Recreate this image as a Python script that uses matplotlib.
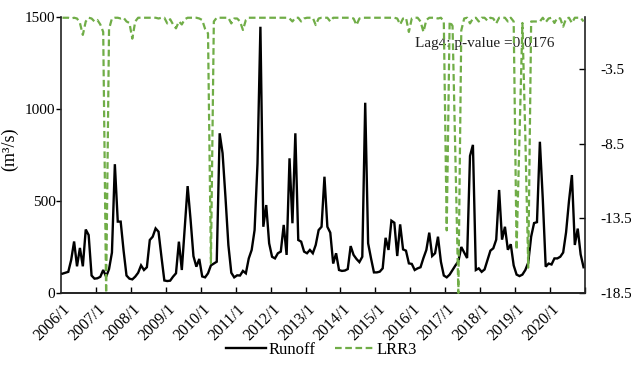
import matplotlib
matplotlib.use('Agg')
import matplotlib.pyplot as plt
from matplotlib.lines import Line2D

plt.rcParams['font.family'] = ['Liberation Serif', 'DejaVu Serif']

years = list(range(2006, 2021))
tick_labels = [f"{y}/1" for y in years]

# Monthly runoff (m3/s), 2006/1 .. 2020/12
runoff_2006 = [105, 110, 115, 180, 280, 145, 245, 145, 345, 315, 95, 78]
runoff_2007 = [80, 88, 125, 89, 130, 220, 700, 388, 388, 230, 95, 78]
runoff_2008 = [74, 89, 110, 150, 125, 140, 288, 306, 351, 333, 197, 68]
runoff_2009 = [65, 67, 89, 107, 279, 125, 350, 581, 400, 200, 143, 185]
runoff_2010 = [90, 85, 107, 150, 160, 170, 868, 760, 520, 260, 110, 85]
runoff_2011 = [96, 95, 120, 107, 188, 234, 342, 705, 1447, 360, 478, 270]
runoff_2012 = [197, 188, 216, 225, 370, 207, 732, 379, 868, 288, 279, 225]
runoff_2013 = [216, 234, 216, 261, 342, 360, 632, 360, 328, 160, 216, 125]
runoff_2014 = [120, 122, 130, 255, 207, 185, 168, 197, 1034, 270, 188, 112]
runoff_2015 = [112, 116, 134, 300, 234, 393, 382, 201, 373, 237, 230, 161]
runoff_2016 = [158, 125, 134, 140, 190, 234, 328, 201, 216, 306, 170, 95]
runoff_2017 = [85, 100, 125, 150, 172, 250, 220, 190, 745, 805, 125, 134]
runoff_2018 = [115, 128, 180, 230, 243, 290, 560, 290, 360, 235, 265, 150]
runoff_2019 = [100, 92, 100, 125, 165, 306, 380, 385, 822, 510, 143, 160]
runoff_2020 = [155, 188, 188, 197, 220, 330, 500, 641, 261, 350, 210, 140]

# LRR3 statistic (right axis)
lrr3_2006 = [-0.05, -0.05, -0.05, -0.1, -0.05, -0.1, -0.4, -1.2, -0.3, -0.05, -0.1, -0.3]
lrr3_2007 = [-0.2, -0.5, -1.0, -18.5, -0.8, -0.1, -0.05, -0.05, -0.1, -0.05, -0.3, -0.4]
lrr3_2008 = [-1.45, -0.3, -0.05, -0.05, -0.05, -0.05, -0.05, -0.05, -0.05, -0.1, -0.05, -0.05]
lrr3_2009 = [-0.43, -0.15, -0.5, -0.76, -0.3, -0.5, -0.15, -0.05, -0.05, -0.05, -0.05, -0.1]
lrr3_2010 = [-0.2, -0.8, -1.1, -16.5, -0.3, -0.05, -0.05, -0.05, -0.05, -0.05, -0.43, -0.1]
lrr3_2011 = [-0.1, -0.3, -0.87, -0.2, -0.05, -0.05, -0.05, -0.05, -0.05, -0.05, -0.05, -0.05]
lrr3_2012 = [-0.05, -0.05, -0.05, -0.05, -0.05, -0.05, -0.1, -0.3, -0.05, -0.05, -0.3, -0.1]
lrr3_2013 = [-0.05, -0.05, -0.05, -0.54, -0.1, -0.05, -0.05, -0.05, -0.3, -0.05, -0.05, -0.05]
lrr3_2014 = [-0.05, -0.05, -0.05, -0.05, -0.1, -0.54, -0.1, -0.05, -0.05, -0.05, -0.05, -0.05]
lrr3_2015 = [-0.05, -0.05, -0.05, -0.05, -0.05, -0.05, -0.05, -0.1, -0.5, -0.1, -0.05, -1.0]
lrr3_2016 = [-0.1, -0.05, -0.05, -0.3, -1.0, -0.2, -0.05, -0.05, -0.05, -0.1, -0.05, -0.3]
lrr3_2017 = [-14.3, -0.3, -0.6, -9.5, -18.5, -0.9, -0.1, -0.05, -0.43, -0.1, -0.05, -0.3]
lrr3_2018 = [-0.05, -0.05, -0.25, -0.05, -0.1, -0.43, -0.05, -0.05, -0.05, -0.3, -0.05, -0.3]
lrr3_2019 = [-15.6, -8.0, -0.4, -8.0, -16.8, -0.3, -0.3, -0.3, -0.3, -0.05, -0.35, -0.1]
lrr3_2020 = [-0.05, -0.4, -0.05, -0.1, -0.65, -0.1, -0.05, -0.4, -0.05, -0.05, -0.05, -0.3]

runoff = (runoff_2006 + runoff_2007 + runoff_2008 + runoff_2009 + runoff_2010 +
          runoff_2011 + runoff_2012 + runoff_2013 + runoff_2014 + runoff_2015 +
          runoff_2016 + runoff_2017 + runoff_2018 + runoff_2019 + runoff_2020)
lrr3 = (lrr3_2006 + lrr3_2007 + lrr3_2008 + lrr3_2009 + lrr3_2010 +
        lrr3_2011 + lrr3_2012 + lrr3_2013 + lrr3_2014 + lrr3_2015 +
        lrr3_2016 + lrr3_2017 + lrr3_2018 + lrr3_2019 + lrr3_2020)
months = list(range(len(runoff)))

green = '#70AD47'

fig = plt.figure(figsize=(6.31, 3.66), dpi=100)
ax = fig.add_axes([61/631, 1 - 293/366, (585 - 61)/631, (293 - 17)/366])
ax2 = ax.twinx()

ax.plot(months, runoff, color='black', lw=1.7, solid_joinstyle='miter', zorder=3)
ax2.plot(months, lrr3, color=green, lw=1.6, ls=(0, (3.0, 1.6)), clip_on=False, zorder=3)

n = len(runoff)
ax.set_xlim(-0.5, n - 0.5)
ax.set_ylim(0, 1500)
ax2.set_ylim(-18.5, 0)

ax.set_yticks([0, 500, 1000, 1500])
ax.tick_params(axis='y', direction='out', length=3.5, width=1, labelsize=11, pad=0.5)
ax2.set_yticks([-18.5, -13.5, -8.5, -3.5])
ax2.set_yticklabels(['-18.5', '-13.5', '-8.5', '-3.5'])
ax2.tick_params(axis='y', direction='in', length=4, width=1, labelsize=11, pad=11)

ax.set_xticks([12 * k for k in range(len(years))])
ax.set_xticklabels(tick_labels, rotation=45, ha='right', rotation_mode='anchor', fontsize=11.5)
ax.tick_params(axis='x', which='major', length=0, pad=6)
ax.set_xticks([12 * k - 0.5 for k in range(1, len(years) + 1)], minor=True)
ax.tick_params(axis='x', which='minor', direction='in', length=4, width=1)

for a in (ax, ax2):
    a.spines['top'].set_visible(False)
    for s in ('left', 'right', 'bottom'):
        a.spines[s].set_linewidth(1.2)
        a.spines[s].set_color('#222222')
ax.spines['right'].set_visible(False)
ax2.spines['left'].set_visible(False)

ax.set_ylabel('(m³/s)', fontsize=13)
ax.yaxis.set_label_coords((18 - 61) / 524, 0.52)

ax.text((415 - 61) / 524, (293 - 43) / 276, 'Lag4: p-value =0.0176', transform=ax.transAxes,
        fontsize=11, va='center', ha='left', color='#222222')

handles = [Line2D([], [], color='black', lw=1.7),
           Line2D([], [], color=green, lw=1.6, ls=(0, (3.0, 1.6)))]
fig.legend(handles, ['Runoff', 'LRR3'], loc='center', bbox_to_anchor=(0.51, 1 - 350/366),
           ncol=2, frameon=False, fontsize=12, handlelength=2.4, handletextpad=0.1,
           columnspacing=1.2)

fig.savefig('out.png', dpi=100)
